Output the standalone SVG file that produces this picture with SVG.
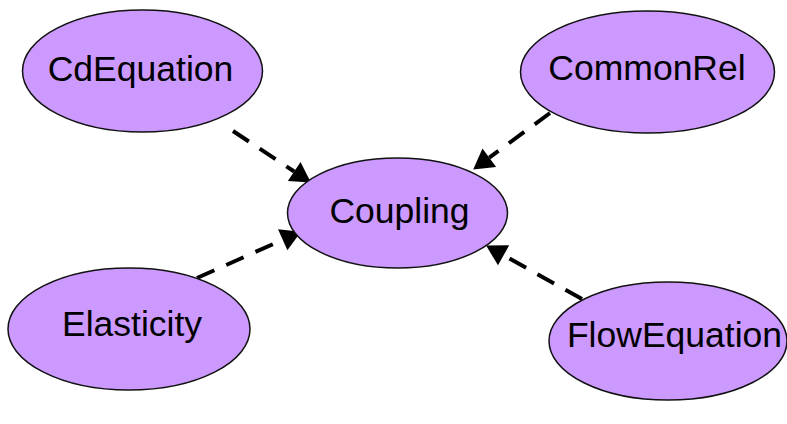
<svg xmlns="http://www.w3.org/2000/svg" width="787" height="424" viewBox="0 0 787 424">
<style>
.node ellipse{fill:#cc99ff;stroke:#111;stroke-width:1.5}
.node text{font-family:"Liberation Sans",Arial,sans-serif;font-size:35.5px;fill:#000;text-anchor:middle}
.edge{fill:none;stroke:#000;stroke-width:4;stroke-dasharray:19 13}
</style>
<defs>
<marker id="arr" markerUnits="userSpaceOnUse" markerWidth="21" markerHeight="24" refX="0" refY="11.5" orient="auto" overflow="visible">
<path d="M0,0 L20,11.5 L0,23 z" fill="#000"/>
</marker>
</defs>
<rect width="787" height="424" fill="#fff"/>
<g id="connectors">
<path class="edge" d="M233,131 L294.2,171.5" marker-end="url(#arr)"/>
<path class="edge" d="M550,113 L489.3,157.7" marker-end="url(#arr)"/>
<path class="edge" d="M197,278 L282.7,239.8" marker-end="url(#arr)"/>
<path class="edge" d="M582,299 L503.6,255.3" marker-end="url(#arr)"/>
</g>
<g id="CdEquation" class="node">
<ellipse cx="142.5" cy="71" rx="120" ry="61"/>
<text x="140.5" y="81">CdEquation</text>
</g>
<g id="CommonRel" class="node">
<ellipse cx="647.5" cy="72" rx="127" ry="61"/>
<text x="647" y="80">CommonRel</text>
</g>
<g id="Coupling" class="node">
<ellipse cx="397.5" cy="213" rx="110" ry="55"/>
<text x="399.5" y="223">Coupling</text>
</g>
<g id="Elasticity" class="node">
<ellipse cx="129" cy="329" rx="121" ry="61"/>
<text x="132" y="336">Elasticity</text>
</g>
<g id="FlowEquation" class="node">
<ellipse cx="668" cy="341" rx="119" ry="59"/>
<text x="674.5" y="347">FlowEquation</text>
</g>
</svg>
